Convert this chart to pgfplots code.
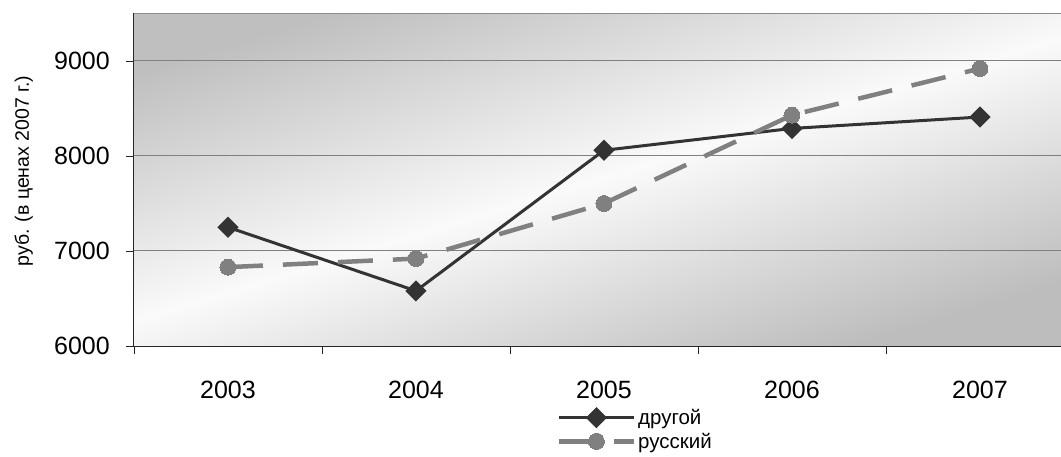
\documentclass[border=0pt]{standalone}
\usepackage{fontspec}
\setmainfont{Liberation Sans}
\usepackage{pgfplots}
\pgfplotsset{compat=1.18}
\definecolor{darkser}{HTML}{333333}
\definecolor{midser}{HTML}{808080}
\begin{document}
\begin{tikzpicture}
\useasboundingbox (-134pt,-110pt) rectangle (927pt,346pt);
\begin{axis}[
  scale only axis,
  width=927pt, height=333pt,
  xmin=0.5, xmax=5.431,
  ymin=6000, ymax=9505,
  axis x line=bottom, axis y line=left,
  axis line style={-, draw=black!85, line width=1pt},
  axis background/.style={shade, top color=black!25, bottom color=black!26, middle color=black!2, shading angle=17},
  xtick={1,2,3,4,5},
  xticklabels={2003,2004,2005,2006,2007},
  minor xtick={0.5,1.5,2.5,3.5,4.5},
  major x tick style={draw=none},
  ytick={6000,7000,8000,9000},
  tick align=outside,
  major tick length=8pt, minor tick length=8pt,
  tick style={draw=black!85, line width=0.8pt},
  ymajorgrids,
  grid style={draw=midser, line width=1pt},
  /pgf/number format/assume math mode=true,
  /pgf/number format/1000 sep={},
  tick label style={font=\fontsize{25}{30}\selectfont},
  xticklabel style={anchor=north, inner sep=0pt, yshift=-27pt},
  yticklabel style={anchor=east, inner sep=0pt, xshift=-16pt},
  ylabel={руб. (в ценах 2007 г.)},
  ylabel style={at={(axis description cs:-0.119,0.525)}, anchor=center, font=\fontsize{19.5}{22}\selectfont},
  legend style={at={(axis description cs:0.4563,-0.185)}, anchor=north west, draw=none, fill=none,
    font=\fontsize{20.5}{24}\selectfont, row sep=4pt, inner sep=0pt, nodes={inner sep=1.5pt}},
  legend cell align=left,
  legend image code/.code={\draw[mark repeat=2, mark phase=2, #1] plot coordinates {(0pt,0pt) (37pt,0pt) (75pt,0pt)};},
]
\draw[black!45, line width=1.5pt] (rel axis cs:0,1) -- (rel axis cs:1,1);
\addplot[darkser, line width=3pt, mark=square*, mark size=6pt, mark options={solid, rotate=45, fill=darkser, draw=darkser}]
  coordinates {(1,7250) (2,6580) (3,8060) (4,8290) (5,8410)};
\addlegendentry{другой}
\addplot[midser, line width=4.5pt, dash pattern=on 35pt off 20pt, mark=*, mark size=8pt, mark options={solid, fill=midser, draw=midser, line width=0pt}]
  coordinates {(1,6830) (2,6920) (3,7500) (4,8430) (5,8920)};
\addlegendentry{русский}
\end{axis}
\end{tikzpicture}
\end{document}
